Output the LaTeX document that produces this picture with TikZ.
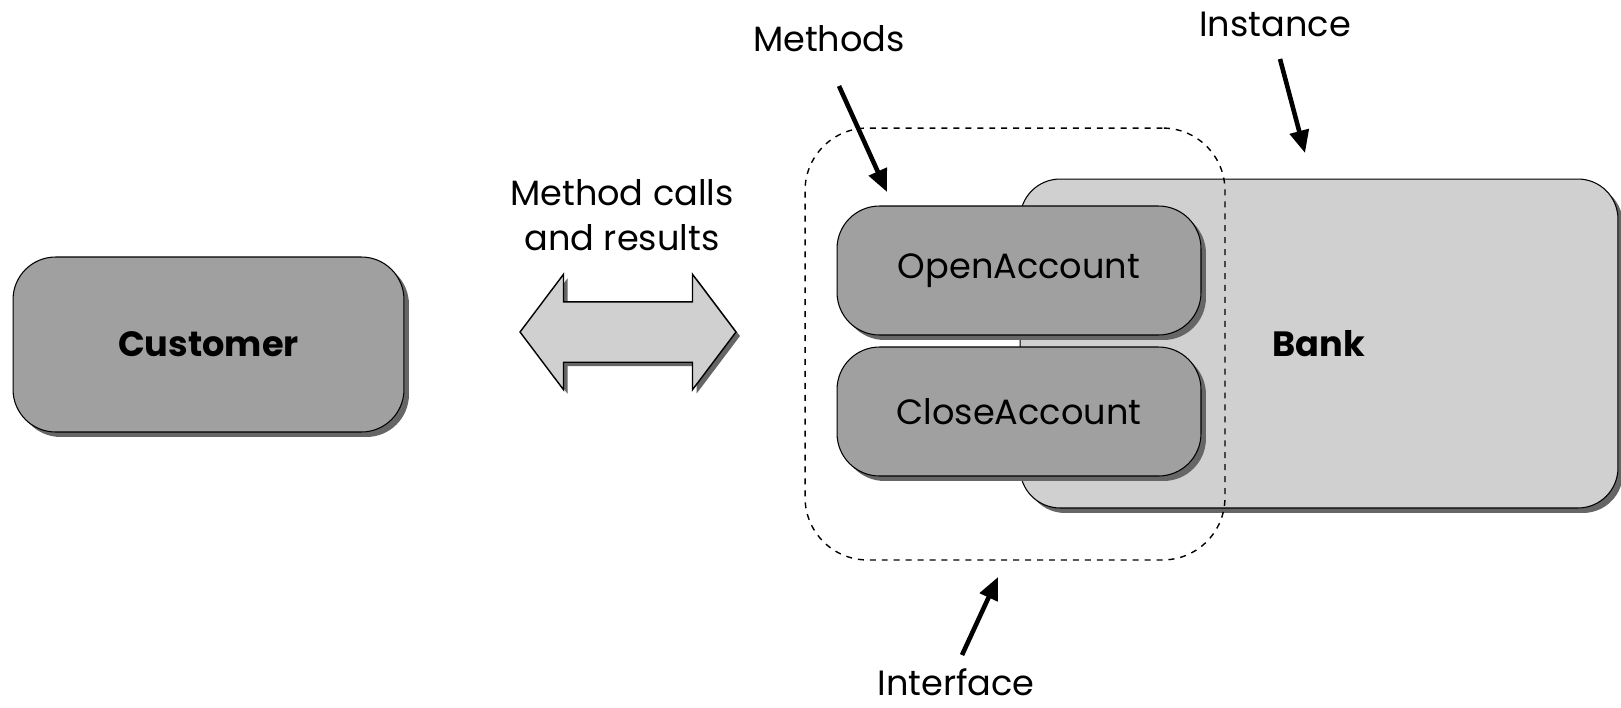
\documentclass[tikz,border=0pt]{standalone}
\usepackage{fontspec}
\setmainfont{Poppins}
\usetikzlibrary{shapes.arrows,shadows,arrows.meta}
\definecolor{boxgray}{HTML}{A0A0A0}
\definecolor{bankgray}{HTML}{D0D0D0}
\tikzset{
  shade box/.style={drop shadow={shadow xshift=0.1cm, shadow yshift=-0.1cm, fill=black!60, opacity=1}},
  box/.style={draw=black, line width=0.6pt, rounded corners=0.85cm, fill=boxgray, shade box},
  label/.style={font=\fontsize{20}{25.5}\selectfont, align=center},
  pointer/.style={line width=2.6pt, -{Triangle[length=0.45cm, width=0.38cm]}}
}
\begin{document}
\begin{tikzpicture}[x=0.02cm, y=-0.02cm, every node/.style={font=\fontsize{20}{24}\selectfont}]
  \useasboundingbox (0,0) rectangle (1621,707);
  \node[box, minimum width=7.82cm, minimum height=3.5cm, font=\fontsize{20}{24}\selectfont\bfseries] (customer) at (208.5,344.5) {Customer};
  \node[box, fill=bankgray, rounded corners=0.8cm, minimum width=11.96cm, minimum height=6.58cm, font=\fontsize{20}{24}\selectfont\bfseries] (bank) at (1319,343.5) {Bank};
  \node[box, minimum width=7.28cm, minimum height=2.58cm] (open) at (1019,270.5) {OpenAccount};
  \node[box, minimum width=7.28cm, minimum height=2.58cm] (close) at (1019,411.5) {CloseAccount};
  \node[draw, line width=0.8pt, dash pattern=on 3.4pt off 3.4pt, rounded corners=1.25cm, minimum width=8.4cm, minimum height=8.64cm] (iface) at (1015,344) {};
  \node[double arrow, draw, fill=bankgray, line width=0.8pt, minimum height=4.32cm, inner xsep=0pt, inner ysep=0.59cm, double arrow head extend=0.55cm, double arrow tip angle=106, drop shadow={shadow xshift=0.08cm, shadow yshift=-0.08cm, fill=black!60, opacity=1}] (calls) at (628,332) {};
  \node[label] (callslabel) at (622,215) {Method calls\\and results};
  \node[label] (methods) at (829,39) {Methods};
  \node[label] (instance) at (1275,24) {Instance};
  \node[label] (interface) at (956,682) {Interface};
  \coordinate (m1) at (839,86);
  \coordinate (m2) at (887,192);
  \coordinate (i1) at (1280,59);
  \coordinate (i2) at (1305,153);
  \coordinate (f1) at (962,655);
  \coordinate (f2) at (998,577);
  \draw[pointer] (m1) -- (m2);
  \draw[pointer] (i1) -- (i2);
  \draw[pointer] (f1) -- (f2);
\end{tikzpicture}
\end{document}
